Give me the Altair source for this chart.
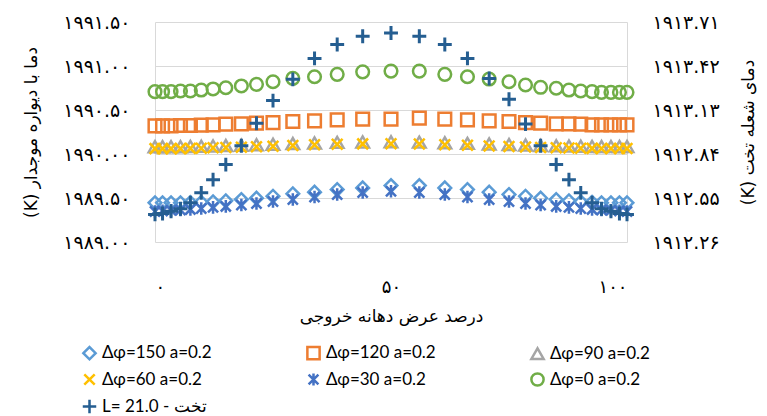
import altair as alt
import pandas as pd

# x positions: percent of outlet width
x_pct = [0, 1.6, 3.4, 5.4, 7.5, 9.8, 12.3, 15, 18.3, 21.5, 25, 29.2, 33.8, 38.6, 44, 50,
         56, 61.4, 66.2, 70.8, 75, 78.5, 81.7, 85, 87.7, 90.2, 92.6, 94.6, 96.6, 98.4, 100]

series_names = ["Δφ=150 a=0.2", "Δφ=120 a=0.2", "Δφ=90 a=0.2",
                "Δφ=60 a=0.2", "Δφ=30 a=0.2", "Δφ=0 a=0.2", "L= 21.0 - تخت"]

dphi150 = [1989.446, 1989.446, 1989.446, 1989.446, 1989.449, 1989.452, 1989.457, 1989.468, 1989.483, 1989.498,
           1989.520, 1989.548, 1989.566, 1989.596, 1989.615, 1989.641, 1989.641, 1989.615, 1989.596, 1989.566,
           1989.540, 1989.520, 1989.498, 1989.483, 1989.468, 1989.457, 1989.452, 1989.446, 1989.446, 1989.446, 1989.446]
dphi120 = [1990.320, 1990.320, 1990.320, 1990.324, 1990.324, 1990.328, 1990.331, 1990.339, 1990.343, 1990.351,
           1990.357, 1990.369, 1990.377, 1990.388, 1990.396, 1990.396, 1990.407, 1990.396, 1990.388, 1990.377,
           1990.369, 1990.357, 1990.351, 1990.343, 1990.343, 1990.339, 1990.331, 1990.331, 1990.331, 1990.331, 1990.331]
dphi90 = [1990.083, 1990.083, 1990.083, 1990.083, 1990.086, 1990.088, 1990.092, 1990.096, 1990.100, 1990.105,
          1990.111, 1990.119, 1990.126, 1990.132, 1990.137, 1990.139, 1990.135, 1990.128, 1990.121, 1990.114,
          1990.107, 1990.102, 1990.097, 1990.094, 1990.090, 1990.088, 1990.086, 1990.085, 1990.085, 1990.085, 1990.085]
dphi60 = [1990.061, 1990.061, 1990.061, 1990.061, 1990.064, 1990.066, 1990.070, 1990.074, 1990.078, 1990.083,
          1990.089, 1990.097, 1990.104, 1990.110, 1990.115, 1990.117, 1990.113, 1990.106, 1990.099, 1990.092,
          1990.085, 1990.080, 1990.075, 1990.072, 1990.068, 1990.066, 1990.064, 1990.063, 1990.063, 1990.063, 1990.063]
dphi30 = [1989.347, 1989.353, 1989.359, 1989.364, 1989.370, 1989.381, 1989.393, 1989.404, 1989.421, 1989.438,
          1989.460, 1989.483, 1989.511, 1989.540, 1989.562, 1989.577, 1989.562, 1989.540, 1989.511, 1989.483,
          1989.460, 1989.438, 1989.421, 1989.404, 1989.393, 1989.381, 1989.370, 1989.364, 1989.359, 1989.353, 1989.347]
dphi0 = [1990.708, 1990.708, 1990.708, 1990.716, 1990.716, 1990.727, 1990.739, 1990.753, 1990.773, 1990.792,
         1990.821, 1990.860, 1990.878, 1990.905, 1990.934, 1990.942, 1990.942, 1990.905, 1990.878, 1990.852,
         1990.821, 1990.784, 1990.758, 1990.747, 1990.727, 1990.716, 1990.708, 1990.701, 1990.701, 1990.701, 1990.701]
flat = [1912.442, 1912.448, 1912.463, 1912.479, 1912.519, 1912.584, 1912.671, 1912.770, 1912.894, 1913.043,
        1913.192, 1913.332, 1913.470, 1913.562, 1913.616, 1913.638, 1913.616, 1913.562, 1913.470, 1913.338,
        1913.201, 1913.037, 1912.894, 1912.770, 1912.671, 1912.584, 1912.519, 1912.479, 1912.463, 1912.448, 1912.442]

left_ticks = [1989.0, 1989.5, 1990.0, 1990.5, 1991.0, 1991.5]
right_ticks = [1912.26, 1912.55, 1912.84, 1913.13, 1913.42, 1913.71]
x_ticks = [0, 50, 100]

colors = ["#5B9BD5", "#ED7D31", "#A5A5A5", "#FFC000", "#4472C4", "#70AD47", "#255E91"]
shapes = ["diamond", "square", "triangle-up",
          "M-0.85,-0.85L0.85,0.85M-0.85,0.85L0.85,-0.85",
          "M-0.8,-0.8L0.8,0.8M-0.8,0.8L0.8,-0.8M0,-1L0,1",
          "circle",
          "M-1.1,0L1.1,0M0,-1.1L0,1.1"]

left_series = [dphi150, dphi120, dphi90, dphi60, dphi30, dphi0]
rows = []
for name, vals in zip(series_names[:6], left_series):
    for xv, yv in zip(x_pct, vals):
        rows.append({"x": xv, "y": yv, "series": name})
df_left = pd.DataFrame(rows)
df_right = pd.DataFrame({"x": x_pct, "y": flat, "series": series_names[6]})


def fa_digits(expr):
    for i, d in enumerate("۰۱۲۳۴۵۶۷۸۹"):
        expr = f"replace({expr}, regexp('{i}', 'g'), '{d}')"
    return expr


FONT = "DejaVu Sans"

color_scale = alt.Scale(domain=series_names, range=colors)
shape_scale = alt.Scale(domain=series_names, range=shapes)

x_enc = alt.X("x:Q", scale=alt.Scale(domain=[0, 100], nice=False),
              axis=alt.Axis(values=x_ticks, labelExpr=fa_digits("format(datum.value, 'd')"),
                            grid=False, ticks=False, tickSize=0, domain=False,
                            labelPadding=36, labelFontSize=18, labelFont=FONT, labelColor="#000000",
                            title="درصد عرض دهانه خروجی", titleFontSize=17, titleFont=FONT,
                            titleFontWeight="normal", titleColor="#000000", titlePadding=12))

legend = alt.Legend(title=None, orient="none", legendX=-74, legendY=322, columns=3,
                    direction="horizontal",
                    gridAlign="all", columnPadding=90, rowPadding=2,
                    labelFontSize=17, labelFont="Lato", labelColor="#000000",
                    symbolSize=150, symbolStrokeWidth=2.5, symbolOffset=0, labelOffset=4)

left = alt.Chart(df_left).mark_point(filled=False, size=160, strokeWidth=2.5, opacity=1).encode(
    x=x_enc,
    y=alt.Y("y:Q", scale=alt.Scale(domain=[1989.0, 1991.5], nice=False, zero=False),
            axis=alt.Axis(values=left_ticks, labelExpr=fa_digits("format(datum.value, '.2f')"),
                          grid=True, gridColor="#d9d9d9", gridWidth=1,
                          ticks=False, tickSize=0, domain=True, domainColor="#d9d9d9",
                          labelPadding=25, labelFontSize=19, labelFont=FONT, labelColor="#000000",
                          title="(K) دما با دیواره موجدار", titleFontSize=17, titleFont=FONT,
                          titleFontWeight="normal", titleColor="#000000", titlePadding=22)),
    color=alt.Color("series:N", scale=color_scale, legend=legend),
    shape=alt.Shape("series:N", scale=shape_scale, legend=legend),
)

right = alt.Chart(df_right).mark_point(filled=False, size=160, strokeWidth=3, opacity=1).encode(
    x=alt.X("x:Q", scale=alt.Scale(domain=[0, 100], nice=False)),
    y=alt.Y("y:Q", scale=alt.Scale(domain=[1912.26, 1913.71], nice=False, zero=False),
            axis=alt.Axis(orient="right", values=right_ticks,
                          labelExpr=fa_digits("format(datum.value, '.2f')"),
                          grid=False, ticks=False, tickSize=0, domain=True, domainColor="#d9d9d9",
                          labelPadding=25, labelFontSize=19, labelFont=FONT, labelColor="#000000",
                          title="(K) دمای شعله تخت", titleFontSize=17, titleFont=FONT,
                          titleFontWeight="normal", titleColor="#000000", titlePadding=38,
                          titleAngle=270)),
    color=alt.Color("series:N", scale=color_scale, legend=legend),
    shape=alt.Shape("series:N", scale=shape_scale, legend=legend),
)

chart = alt.layer(left, right).resolve_scale(y="independent").properties(
    width=472, height=220,
    autosize=alt.AutoSizeParams(type="none"),
    padding={"left": 155, "top": 22, "right": 140, "bottom": 174},
    background="#ffffff",
).configure_view(stroke=None)

chart.save("out.html", embed_options={"renderer": "svg", "actions": False})
